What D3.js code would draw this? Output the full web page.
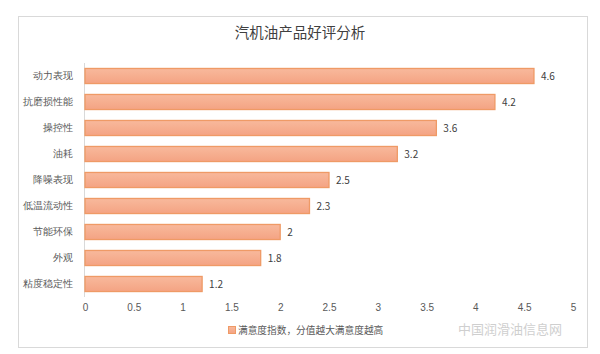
<!DOCTYPE html>
<html><head><meta charset="utf-8">
<script src="https://cdn.jsdelivr.net/npm/d3@7/dist/d3.min.js"></script>
<style>
body{margin:0;background:#fff;}
svg{display:block;font-family:"Noto Sans CJK SC","Microsoft YaHei",sans-serif;}
</style></head>
<body><svg id="c" width="600" height="354"></svg>
<script>
const title = "汽机油产品好评分析";
const categories = ["动力表现","抗磨损性能","操控性","油耗","降噪表现","低温流动性","节能环保","外观","粘度稳定性"];
const values = [4.6,4.2,3.6,3.2,2.5,2.3,2,1.8,1.2];
const xTicks = [0,0.5,1,1.5,2,2.5,3,3.5,4,4.5,5];
const legendLabel = "满意度指数，分值越大满意度越高";

const svg = d3.select("#c");
const defs = svg.append("defs");
const g = defs.append("linearGradient").attr("id","bg").attr("x1",0).attr("y1",0).attr("x2",0).attr("y2",1);
g.append("stop").attr("offset","0%").attr("stop-color","#f8b99c");
g.append("stop").attr("offset","100%").attr("stop-color","#f4a383");

svg.append("rect").attr("x",18.5).attr("y",16.5).attr("width",569).attr("height",331)
  .attr("fill","#fff").attr("stroke","#d9d9d9");

svg.append("text").attr("x",300).attr("y",38).attr("text-anchor","middle")
  .attr("font-size",14.5).attr("fill","#404040").text(title);

const x = d3.scaleLinear().domain([0,5]).range([85,573]);
const y = d3.scaleBand().domain(categories).range([63,297]).paddingInner(0.42).paddingOuter(0.21);

svg.append("line").attr("x1",84.5).attr("x2",84.5).attr("y1",63).attr("y2",297).attr("stroke","#d9d9d9");

svg.selectAll("rect.bar").data(categories).enter().append("rect").attr("class","bar")
  .attr("x",x(0)).attr("y",d=>y(d)).attr("width",(d,i)=>x(values[i])-x(0)).attr("height",y.bandwidth())
  .attr("fill","url(#bg)").attr("stroke","#ef9a66").attr("stroke-width",1.3);

svg.selectAll("text.val").data(categories).enter().append("text").attr("class","val")
  .attr("x",(d,i)=>x(values[i])+7).attr("y",d=>y(d)+y.bandwidth()/2+4)
  .attr("font-size",10).attr("fill","#404040").text((d,i)=>values[i]);

const ya = d3.axisLeft(y).tickSize(0).tickPadding(11);
const yg = svg.append("g").attr("transform","translate(84,0)").call(ya);
yg.select(".domain").remove();
yg.selectAll("text").attr("font-size",9.5).attr("fill","#595959").style("font-family","inherit");

const xa = d3.axisBottom(x).tickValues(xTicks).tickSize(0).tickPadding(0).tickFormat(d=>d);
const xg = svg.append("g").attr("transform","translate(0,304)").call(xa);
xg.select(".domain").remove();
xg.selectAll("text").attr("font-size",10).attr("fill","#595959").style("font-family","inherit");

svg.append("rect").attr("x",228.5).attr("y",326.5).attr("width",7).attr("height",7)
  .attr("fill","url(#bg)").attr("stroke","#ef9a66");
svg.append("text").attr("x",238).attr("y",333.5).attr("font-size",9.7).attr("fill","#595959").text(legendLabel);

// watermark
svg.append("text").attr("x",458).attr("y",334).attr("font-size",13).attr("fill","#cfcfcf").text("中国润滑油信息网");
</script></body></html>
